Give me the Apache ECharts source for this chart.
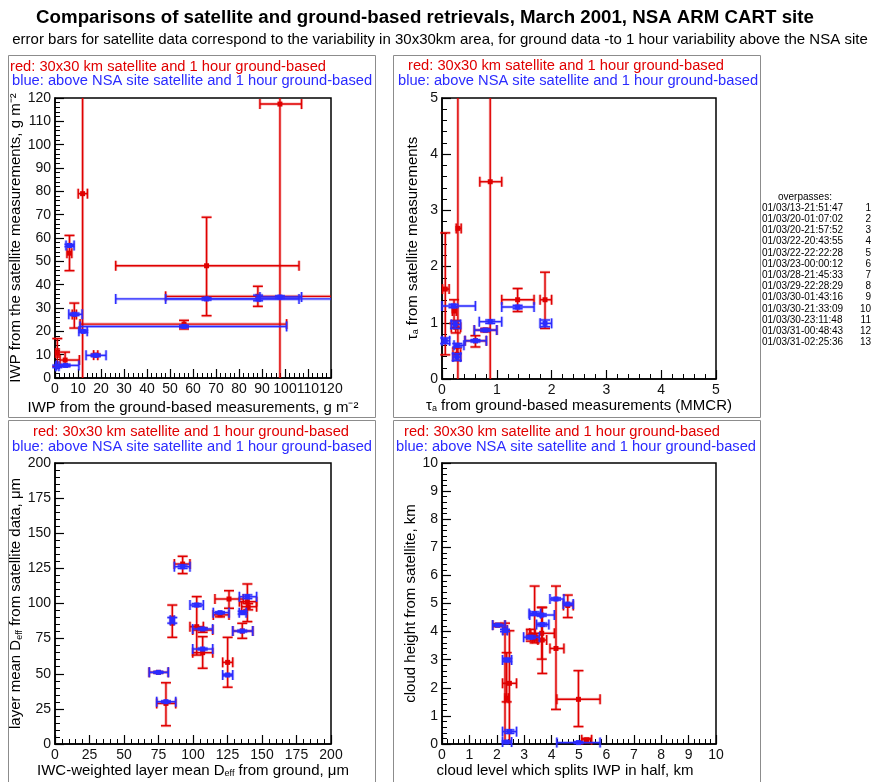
<!DOCTYPE html>
<html>
<head>
<meta charset="utf-8">
<script src="https://cdn.jsdelivr.net/npm/echarts@6/dist/echarts.min.js"></script>
<style>
html,body{margin:0;padding:0;background:#fff;}
#chart{width:875px;height:782px;}
</style>
</head>
<body>
<div id="chart"></div>
<script>
// ---------- DATA: each point = [x, y, xLow, xHigh, yLow, yHigh] ----------
// IWP panel (g m-2)
const iwpRed = [
  [97.8, 117.4, 89.1, 107.2, -60, 300],
  [12.0, 79.0, 10.1, 14.1, -60, 300],
  [65.9, 48.1, 26.4, 106.1, 26.7, 68.9],
  [6.3, 53.5, 5.2, 7.3, 46.0, 61.1],
  [88.2, 35.0, 48.1, 140, 30.7, 39.3],
  [56.1, 23.1, 10.9, 100.7, 21.0, 24.7],
  [8.4, 27.2, 7.5, 9.3, 21.4, 32.1],
  [17.7, 9.8, 16.8, 18.6, 9.4, 10.2],
  [4.4, 7.7, 2.2, 10.6, 5.0, 11.1],
  [1.0, 10.7, 0.3, 1.7, 5.0, 16.9]
];
const iwpBlue = [
  [97.8, 34.7, 89.1, 107.2, 34.2, 35.2],
  [12.3, 20.0, 10.4, 14.0, 19.5, 20.5],
  [65.9, 33.9, 26.4, 106.1, 33.4, 34.4],
  [6.3, 56.8, 4.8, 8.3, 56.3, 57.3],
  [88.3, 33.9, 48.1, 140, 33.1, 35.5],
  [56.1, 22.1, 10.9, 100.7, 21.6, 22.6],
  [8.5, 27.3, 6.0, 11.8, 26.8, 27.8],
  [17.7, 9.7, 13.5, 22.2, 9.2, 10.2],
  [4.6, 5.4, 0.7, 10.4, 4.9, 5.9],
  [1.0, 5.0, 0.3, 1.7, 4.5, 5.5]
];
// optical thickness panel
const tauRed = [
  [0.88, 3.51, 0.69, 1.09, -1, 8],
  [0.29, 2.68, 0.26, 0.35, -1, 8],
  [0.06, 1.60, 0.01, 0.13, 0.43, 2.60],
  [1.38, 1.41, 1.09, 1.68, 1.20, 1.61],
  [1.88, 1.41, 1.79, 2.00, 0.90, 1.90],
  [0.22, 1.21, 0.19, 0.26, 0.99, 1.41],
  [0.25, 0.92, 0.17, 0.34, 0.82, 1.04],
  [0.79, 0.87, 0.59, 1.00, 0.84, 0.90],
  [0.61, 0.68, 0.42, 0.81, 0.57, 0.77],
  [0.27, 0.44, 0.20, 0.34, 0.33, 0.55]
];
const tauBlue = [
  [0.88, 1.02, 0.68, 1.09, 0.99, 1.05],
  [0.28, 0.60, 0.22, 0.40, 0.57, 0.63],
  [0.06, 0.68, 0.00, 0.14, 0.63, 0.73],
  [1.38, 1.28, 1.09, 1.68, 1.25, 1.31],
  [1.88, 0.99, 1.79, 2.00, 0.93, 1.05],
  [0.21, 1.30, 0.00, 0.61, 1.27, 1.33],
  [0.24, 0.97, 0.17, 0.34, 0.90, 1.03],
  [0.79, 0.87, 0.59, 1.00, 0.85, 0.89],
  [0.61, 0.68, 0.42, 0.81, 0.66, 0.70],
  [0.27, 0.39, 0.20, 0.34, 0.33, 0.45]
];
// effective diameter panel (um)
const deffRed = [
  [92.5, 128.1, 86.5, 97.8, 121.3, 133.6],
  [126.1, 103.2, 115.9, 136.5, 96.6, 109.1],
  [139.4, 101.3, 133.6, 146.1, 87.1, 113.9],
  [140.0, 97.7, 135.3, 146.1, 95.5, 99.9],
  [102.7, 83.5, 97.8, 107.5, 63.3, 104.9],
  [85.0, 87.8, 84.0, 86.0, 75.9, 98.9],
  [119.6, 91.9, 114.7, 126.1, 90.5, 93.3],
  [107.0, 81.1, 99.8, 114.3, 79.5, 82.7],
  [135.7, 80.4, 128.8, 143.3, 75.2, 85.9],
  [107.0, 65.0, 99.8, 114.3, 53.9, 76.4],
  [125.1, 58.1, 121.5, 128.8, 40.4, 75.9],
  [74.9, 51.0, 68.3, 82.1, 50.5, 51.5],
  [80.4, 28.9, 73.7, 87.5, 13.0, 43.6]
];
const deffBlue = [
  [92.5, 126.2, 86.5, 97.8, 125.0, 127.4],
  [139.4, 104.8, 133.6, 146.1, 103.5, 106.1],
  [136.0, 93.5, 133.5, 138.5, 92.5, 94.5],
  [102.7, 98.9, 97.8, 107.5, 97.9, 99.9],
  [85.0, 88.0, 83.5, 86.5, 86.0, 90.0],
  [119.6, 93.5, 114.7, 126.1, 92.9, 94.1],
  [107.0, 81.9, 99.8, 114.3, 81.3, 82.5],
  [135.7, 80.4, 128.8, 143.3, 79.8, 81.0],
  [107.0, 67.6, 99.8, 114.3, 67.0, 68.2],
  [125.1, 49.1, 121.5, 128.8, 48.5, 49.7],
  [74.9, 51.0, 68.3, 82.1, 50.4, 51.6],
  [80.4, 30.1, 73.7, 87.5, 29.5, 30.7]
];
// cloud height panel (km)
const zRed = [
  [4.98, 1.59, 4.19, 5.77, 0.62, 2.61],
  [4.16, 3.40, 3.94, 4.45, 1.23, 5.62],
  [4.59, 4.93, 4.43, 4.79, 4.50, 5.30],
  [3.38, 3.76, 3.30, 3.46, 3.60, 5.62],
  [3.66, 3.70, 3.50, 3.82, 2.51, 4.86],
  [3.64, 3.94, 3.20, 4.10, 3.02, 4.86],
  [3.24, 3.88, 3.10, 3.40, 3.66, 4.08],
  [2.03, 4.23, 1.85, 2.30, 4.18, 4.28],
  [2.30, 4.06, 2.22, 2.38, -1, 4.30],
  [2.46, 2.16, 2.21, 2.72, -1, 4.03],
  [2.36, 1.63, 2.30, 2.42, 1.50, 3.25],
  [5.28, 0.15, 5.10, 5.46, 0.05, 0.20]
];
const zBlue = [
  [4.98, 0.05, 4.19, 5.77, 0.02, 0.08],
  [4.16, 5.16, 3.94, 4.45, 5.12, 5.20],
  [4.59, 4.98, 4.43, 4.79, 4.95, 5.01],
  [3.38, 4.64, 3.18, 3.60, 4.58, 4.70],
  [3.66, 4.25, 3.45, 3.90, 4.20, 4.30],
  [3.64, 4.59, 3.20, 4.10, 4.55, 4.63],
  [3.24, 3.80, 2.98, 3.55, 3.75, 3.85],
  [2.03, 4.23, 1.85, 2.30, 4.20, 4.26],
  [2.30, 4.04, 2.22, 2.38, 4.00, 4.08],
  [2.38, 2.99, 2.21, 2.54, 2.93, 3.05],
  [2.46, 0.44, 2.21, 2.72, 0.38, 0.50],
  [2.36, 0.07, 2.21, 2.54, 0.03, 0.11]
];
const overpassTimes = [
  '01/03/13-21:51:47', '01/03/20-01:07:02', '01/03/20-21:57:52', '01/03/22-20:43:55',
  '01/03/22-22:22:28', '01/03/23-00:00:12', '01/03/28-21:45:33', '01/03/29-22:28:29',
  '01/03/30-01:43:16', '01/03/30-21:33:09', '01/03/30-23:11:48', '01/03/31-00:48:43',
  '01/03/31-02:25:36'
];
const overpassIds = ['1','2','3','4','5','6','7','8','9','10','11','12','13'];

// ---------- STYLE ----------
const RED = '#e00000';
const BLUE = '#2b2bff';
const FONT = 'Liberation Sans, Arial, sans-serif';

const chart = echarts.init(document.getElementById('chart'), null, {renderer: 'canvas'});

function makeRender(color) {
  return function (params, api) {
    const cs = params.coordSys;
    const x = api.value(0), y = api.value(1);
    const c = api.coord([x, y]);
    const pl = api.coord([api.value(2), y]);
    const ph = api.coord([api.value(3), y]);
    const ql = api.coord([x, api.value(4)]);
    const qh = api.coord([x, api.value(5)]);
    const x0 = cs.x, x1 = cs.x + cs.width, y0 = cs.y, y1 = cs.y + cs.height;
    const cx = v => Math.max(x0, Math.min(x1, v));
    const cy = v => Math.max(y0, Math.min(y1, v));
    const inX = v => v >= x0 - 0.5 && v <= x1 + 0.5;
    const inY = v => v >= y0 - 0.5 && v <= y1 + 0.5;
    const h = 5;
    const segs = [];
    segs.push([cx(pl[0]), c[1], cx(ph[0]), c[1]]);
    segs.push([c[0], cy(ql[1]), c[0], cy(qh[1])]);
    if (inX(pl[0])) segs.push([pl[0], c[1] - h, pl[0], c[1] + h]);
    if (inX(ph[0])) segs.push([ph[0], c[1] - h, ph[0], c[1] + h]);
    if (inY(ql[1])) segs.push([c[0] - h, ql[1], c[0] + h, ql[1]]);
    if (inY(qh[1])) segs.push([c[0] - h, qh[1], c[0] + h, qh[1]]);
    const children = [];
    segs.forEach(s => {
      children.push({type: 'line', shape: {x1: s[0], y1: s[1], x2: s[2], y2: s[3]},
        style: {stroke: color, lineWidth: 3, opacity: 0.28}});
    });
    segs.forEach(s => {
      children.push({type: 'line', shape: {x1: s[0], y1: s[1], x2: s[2], y2: s[3]},
        style: {stroke: color, lineWidth: 1.4}});
    });
    children.push({type: 'rect', shape: {x: c[0] - 2.5, y: c[1] - 2.5, width: 5, height: 5},
      style: {fill: color}});
    return {type: 'group', children: children};
  };
}

function errSeries(data, color, gi) {
  return {
    type: 'custom', xAxisIndex: gi, yAxisIndex: gi, data: data,
    dimensions: ['x', 'y', 'xlo', 'xhi', 'ylo', 'yhi'],
    encode: {x: 0, y: 1}, renderItem: makeRender(color),
    silent: true, animation: false, z: color === RED ? 2 : 3
  };
}

const grids = [
  {left: 55, top: 98, width: 276, height: 280},
  {left: 442, top: 98, width: 274, height: 281},
  {left: 55, top: 463, width: 276, height: 281},
  {left: 442, top: 463, width: 274, height: 281}
].map(g => Object.assign(g, {show: true, borderColor: '#000', borderWidth: 1.5, containLabel: false}));

const rich = {
  s: {fontSize: 9, fontFamily: FONT, verticalAlign: 'bottom', color: '#000'},
  n: {fontSize: 15, fontFamily: FONT, color: '#000'}
};

function axis(gi, min, max, interval, name, nameGap, isY, extra) {
  return Object.assign({
    type: 'value', gridIndex: gi, min: min, max: max, interval: interval,
    axisLine: {show: true, onZero: false, lineStyle: {color: '#000', width: 1.5}},
    axisTick: {show: true, inside: true, length: 9, lineStyle: {color: '#000', width: 1.2}},
    minorTick: {show: true, splitNumber: 5, length: 5, lineStyle: {color: '#000', width: 1}},
    splitLine: {show: false}, minorSplitLine: {show: false},
    axisLabel: {color: '#111', fontSize: 14, fontFamily: FONT, margin: 4},
    name: name, nameLocation: 'middle', nameGap: nameGap,
    nameTextStyle: {fontSize: 15, fontFamily: FONT, color: '#000', rich: rich}
  }, extra || {});
}

const xAxes = [
  axis(0, 0, 120, 10, 'IWP from the ground-based measurements, g m⁻²', 22),
  axis(1, 0, 5, 1, '{n|τ}{s|a}{n| from ground-based measurements (MMCR)}', 14),
  axis(2, 0, 200, 25, '{n|IWC-weighted layer mean D}{s|eff}{n| from ground, μm}', 19),
  axis(3, 0, 10, 1, 'cloud level which splits IWP in half, km', 19,
       false, {nameTextStyle: {fontSize: 15, fontFamily: FONT, color: '#000', padding: [0, 28, 0, 0]}})
];
const yAxes = [
  axis(0, 0, 120, 10, 'IWP from the satellite measurements, g m⁻²', 28),
  axis(1, 0, 5, 1, '{n|τ}{s|a}{n| from satellite measurements}', 22),
  axis(2, 0, 200, 25, '{n|layer mean D}{s|eff}{n| from satellite data, μm}', 27),
  axis(3, 0, 10, 1, 'cloud height from satellite, km', 23)
];

function txt(x, y, text, color, size, align, weight) {
  return {type: 'text', x: x, y: y, silent: true,
    style: {text: text, fill: color, font: (weight || 'normal') + ' ' + size + 'px ' + FONT,
      align: align || 'left', verticalAlign: 'middle',
      textAlign: align || 'left', textVerticalAlign: 'middle'}};
}
function frame(x, y, w, h) {
  return {type: 'rect', silent: true, shape: {x: x, y: y, width: w, height: h},
    style: {fill: 'none', stroke: '#8c8c8c', lineWidth: 1}};
}

const LEG = 14.7;
const graphics = [
  frame(8.5, 55.5, 367, 362),
  frame(393.5, 55.5, 367, 362),
  frame(8.5, 420.5, 367, 362),
  frame(393.5, 420.5, 367, 362),
  txt(425, 18, 'Comparisons of satellite and ground-based retrievals, March 2001, NSA ARM CART site', '#000', 18.7, 'center', 'bold'),
  txt(440, 40, 'error bars for satellite data correspond to the variability in 30x30km area, for ground data -to 1 hour variability above the NSA site', '#000', 15, 'center'),
  txt(10, 67, 'red: 30x30 km satellite and 1 hour ground-based', RED, LEG),
  txt(12, 81, 'blue: above NSA site satellite and 1 hour ground-based', BLUE, LEG),
  txt(408, 66, 'red: 30x30 km satellite and 1 hour ground-based', RED, LEG),
  txt(398, 81, 'blue: above NSA site satellite and 1 hour ground-based', BLUE, LEG),
  txt(191, 432, 'red: 30x30 km satellite and 1 hour ground-based', RED, LEG, 'center'),
  txt(192, 447, 'blue: above NSA site satellite and 1 hour ground-based', BLUE, LEG, 'center'),
  txt(562, 432, 'red: 30x30 km satellite and 1 hour ground-based', RED, LEG, 'center'),
  txt(576, 447, 'blue: above NSA site satellite and 1 hour ground-based', BLUE, LEG, 'center'),
  txt(778, 197, 'overpasses:', '#000', 10, 'left')
];
overpassTimes.forEach((t, i) => {
  graphics.push(txt(762, 208 + i * 11.2, t, '#000', 10, 'left'));
  graphics.push(txt(871, 208 + i * 11.2, overpassIds[i], '#000', 10, 'right'));
});

chart.setOption({
  backgroundColor: '#fff',
  animation: false,
  grid: grids,
  xAxis: xAxes,
  yAxis: yAxes,
  series: [
    errSeries(iwpRed, RED, 0), errSeries(iwpBlue, BLUE, 0),
    errSeries(tauRed, RED, 1), errSeries(tauBlue, BLUE, 1),
    errSeries(deffRed, RED, 2), errSeries(deffBlue, BLUE, 2),
    errSeries(zRed, RED, 3), errSeries(zBlue, BLUE, 3)
  ],
  graphic: {elements: graphics}
});
</script>
</body>
</html>
